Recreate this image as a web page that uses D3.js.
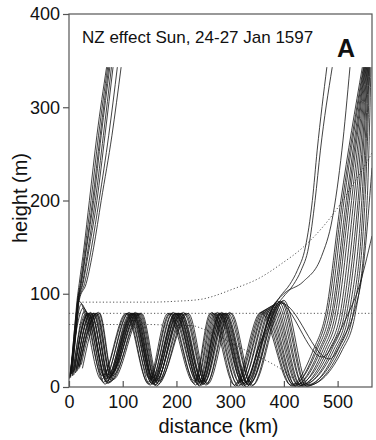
<!DOCTYPE html>
<html>
<head>
<meta charset="utf-8">
<script src="https://cdn.jsdelivr.net/npm/d3@7"></script>
<style>
  body { margin: 0; background: #fff; }
  text { font-family: "Liberation Sans", Arial, sans-serif; fill: #111; }
</style>
</head>
<body>
<div id="chart"></div>
<script>
var width = 376, height = 440;
var margin = {top: 14, right: 4, bottom: 53, left: 69};

var xTicks = [0, 100, 200, 300, 400, 500];
var yTicks = [0, 100, 200, 300, 400];

// rays trapped in the duct, [km, m] at crests / troughs / exit
var ductRays = [
  [[3,10],[19,92],[60,8],[106,79],[147,5],[184,79],[233,4],[263,79],[308,2],[357,80],[413,2],[455,40],[478,79],[506,200],[546,343]],
  [[5,14],[23,89],[62,12],[108,79],[148,3],[187,79],[234,6],[266,80],[310,1],[360,81],[415,1],[459,40],[481,79],[509,200],[548,343]],
  [[1,9],[27,85],[64,5],[110,79],[150,9],[189,79],[236,2],[268,79],[313,4],[363,82],[417,3],[462,40],[485,79],[512,200],[549,343]],
  [[8,16],[30,82],[66,11],[112,80],[151,2],[192,79],[238,7],[271,79],[315,1],[366,83],[419,1],[466,40],[489,79],[516,200],[550,343]],
  [[6,12],[32,79],[67,3],[114,79],[153,8],[194,80],[240,3],[273,79],[317,5],[369,84],[421,2],[469,40],[492,79],[519,200],[551,343]],
  [[11,18],[35,79],[69,9],[116,79],[154,4],[197,79],[242,5],[276,80],[320,2],[372,85],[423,0],[473,40],[496,79],[522,200],[552,343]],
  [[9,13],[37,79],[70,6],[118,79],[156,10],[199,79],[243,1],[278,79],[322,6],[375,86],[425,3],[477,40],[500,79],[526,200],[553,343]],
  [[14,20],[40,80],[72,13],[120,79],[157,3],[202,79],[245,6],[281,79],[325,1],[378,87],[428,1],[481,40],[505,79],[530,200],[554,343]],
  [[12,15],[42,79],[73,4],[122,79],[158,7],[204,79],[247,2],[284,80],[327,4],[381,88],[430,2],[485,40],[509,79],[534,200],[555,343]],
  [[17,22],[45,79],[75,10],[124,80],[160,2],[207,79],[249,5],[287,79],[330,0],[384,89],[432,1],[489,40],[513,79],[538,200],[556,343]],
  [[15,17],[48,79],[76,5],[126,79],[161,6],[210,79],[251,3],[290,79],[333,3],[387,90],[435,3],[493,40],[517,79],[541,200],[557,343]],
  [[20,21],[51,79],[78,14],[129,79],[163,1],[213,80],[253,6],[293,79],[335,2],[391,91],[437,0],[497,40],[521,79],[545,200],[558,343]],
  [[18,19],[53,79],[79,7],[131,79],[164,5],[216,79],[255,2],[296,79],[338,5],[394,92],[440,2],[501,40],[525,79],[548,200],[559,343]],
  [[23,24],[55,80],[81,12],[133,79],[166,3],[219,79],[256,4],[299,80],[340,1],[397,92],[442,1],[505,40],[529,79],[551,200],[560,343]],
  [[25,20],[57,79],[82,8],[135,79],[167,6],[222,79],[258,3],[302,79],[342,2],[400,93],[445,2],[509,40],[533,79],[555,200],[562,343]]
];

// rays leaving the duct right after launch
var earlyRays = [
  [[2,12],[10,60],[15,93],[19,111],[28,150],[38,200],[52,270],[70,343]],
  [[3,14],[11,62],[16,93],[21,111],[30,150],[41,200],[55,270],[72,343]],
  [[1,10],[11,58],[16,92],[22,111],[32,150],[44,200],[58,270],[74,343]],
  [[4,15],[12,60],[17,93],[23,111],[33,150],[46,200],[60,270],[76,343]],
  [[2,11],[12,62],[17,92],[25,111],[36,150],[49,200],[64,270],[79,343]],
  [[5,14],[13,60],[18,93],[26,111],[38,150],[52,200],[67,270],[82,343]],
  [[3,12],[13,61],[18,92],[29,111],[42,150],[56,200],[74,270],[90,343]],
  [[6,15],[14,63],[19,93],[32,111],[46,150],[60,200],[80,270],[97,343]]
];

// rays leaving near the fifth crest
var lateRays = [
  [[10,18],[34,79],[70,6],[117,79],[155,3],[198,79],[243,2],[280,79],[324,3],[355,45],[380,85],[393,97],[411,110],[425,125],[440,150],[453,200],[462,254],[480,343]],
  [[13,16],[40,79],[73,9],[121,79],[158,5],[203,79],[246,4],[284,79],[328,2],[360,48],[385,86],[398,96],[418,110],[432,125],[446,150],[458,200],[468,254],[490,343]],
  [[7,12],[37,79],[71,4],[119,79],[156,6],[200,79],[244,5],[282,79],[326,4],[358,50],[382,88],[400,100],[436,113],[470,140],[490,180],[508,254],[523,343]],
  [[16,20],[46,79],[74,10],[124,79],[160,2],[206,79],[248,6],[288,79],[331,5],[388,92],[472,32],[500,55],[520,79],[538,104],[564,162]],
  [[19,22],[50,79],[77,12],[127,79],[162,7],[209,79],[250,3],[291,79],[334,2],[395,90],[485,30],[510,52],[530,79],[548,130],[564,235]]
];

// dotted reference curves
var upperDots = [[25,91],[150,91],[200,92],[245,94],[305,105],[355,117],[395,132],[436,150],[470,170],[500,192],[525,214],[546,233],[564,251]];
var middleDots = [[0,79],[564,79]];
var lowerDots = [[0,67],[150,67],[200,66],[226,66],[251,62],[313,44],[350,33],[375,26],[400,17],[417,9]];

var w = width - margin.left - margin.right;
var h = height - margin.top - margin.bottom;

var svg = d3.select('#chart').append('svg')
            .attr('width', width)
            .attr('height', height);

svg.append('rect').attr('width', width).attr('height', height).attr('fill', '#fff');

var g = svg.append('g')
           .attr('transform', 'translate(' + margin.left + ',' + margin.top + ')');

var x = d3.scaleLinear().domain([0, 564]).range([0, w]);
var y = d3.scaleLinear().domain([0, 400]).range([h, 0]);

g.append('clipPath').attr('id', 'plotclip')
  .append('rect').attr('width', w).attr('height', h);

var line = d3.line()
             .x(function(d){ return x(d[0]); })
             .y(function(d){ return y(d[1]); })
             .curve(d3.curveMonotoneX);

var plot = g.append('g').attr('clip-path', 'url(#plotclip)');

// dotted curves first, rays on top
[upperDots, middleDots, lowerDots].forEach(function(d){
  plot.append('path')
      .attr('d', line(d))
      .attr('fill', 'none')
      .attr('stroke', '#555')
      .attr('stroke-width', 1)
      .attr('stroke-dasharray', '1.2,2.2');
});

plot.selectAll('path.ray')
    .data(ductRays.concat(earlyRays, lateRays))
    .enter()
    .append('path')
    .attr('class', 'ray')
    .attr('d', line)
    .attr('fill', 'none')
    .attr('stroke', '#111')
    .attr('stroke-width', 0.8);

// frame
g.append('rect')
 .attr('width', w).attr('height', h)
 .attr('fill', 'none')
 .attr('stroke', '#555')
 .attr('stroke-width', 1.2);

var yAxis = g.append('g')
             .call(d3.axisLeft(y).tickValues(yTicks).tickSize(6).tickPadding(3));
yAxis.select('.domain').remove();

var xAxis = g.append('g')
             .attr('transform', 'translate(0,' + h + ')')
             .call(d3.axisBottom(x).tickValues(xTicks).tickSizeInner(-6).tickSizeOuter(0).tickPadding(8));
xAxis.select('.domain').remove();

svg.selectAll('.tick line').attr('stroke', '#555').attr('stroke-width', 1.2);
svg.selectAll('.tick text')
   .style('font-family', '"Liberation Sans", Arial, sans-serif')
   .style('font-size', '18px')
   .attr('fill', '#111');

svg.append('text')
   .attr('x', margin.left + w / 2 - 2)
   .attr('y', 433)
   .attr('text-anchor', 'middle')
   .style('font-size', '20px')
   .text('distance (km)');

svg.append('text')
   .attr('transform', 'translate(27,' + 198 + ') rotate(-90)')
   .attr('text-anchor', 'middle')
   .style('font-size', '20px')
   .text('height (m)');

svg.append('text')
   .attr('x', 82)
   .attr('y', 43)
   .style('font-size', '17px')
   .text('NZ effect Sun, 24-27 Jan 1597');

svg.append('text')
   .attr('x', 337)
   .attr('y', 57)
   .style('font-size', '25px')
   .style('font-weight', 'bold')
   .text('A');
</script>
</body>
</html>
